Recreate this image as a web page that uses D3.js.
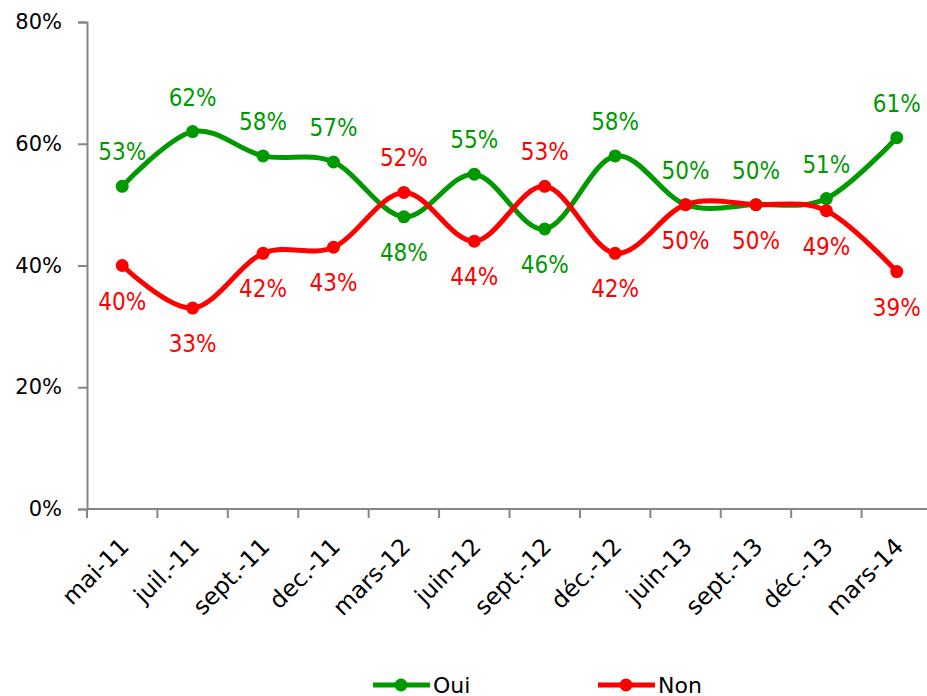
<!DOCTYPE html>
<html>
<head>
<meta charset="utf-8">
<script src="https://cdn.jsdelivr.net/npm/d3@7"></script>
<style>
  body { margin: 0; background: #fff; }
  text { font-family: "DejaVu Sans", sans-serif; }
</style>
</head>
<body>
<div id="chart"></div>
<script>
var categories = ['mai-11', 'juil.-11', 'sept.-11', 'dec.-11', 'mars-12', 'juin-12',
                  'sept.-12', 'déc.-12', 'juin-13', 'sept.-13', 'déc.-13', 'mars-14'];
var oui = [53, 62, 58, 57, 48, 55, 46, 58, 50, 50, 51, 61];
var non = [40, 33, 42, 43, 52, 44, 53, 42, 50, 50, 49, 39];
// which labels sit above the point (true) or below (false)
var ouiAbove = [true, true, true, true, false, true, false, true, true, true, true, true];
var yTicks = [0, 20, 40, 60, 80];

var width = 927, height = 696;
var green = '#009900', red = '#ff0000', axisColor = '#868686';

var svg = d3.select('#chart').append('svg')
    .attr('width', width)
    .attr('height', height);

var x = d3.scaleBand()
    .domain(categories)
    .range([87, 932]);

var y = d3.scaleLinear()
    .domain([0, 80])
    .range([509, 22]);

// y axis
var yAxis = d3.axisLeft(y)
    .tickValues(yTicks)
    .tickSize(9)
    .tickPadding(16)
    .tickFormat(d => d + '%');

var gy = svg.append('g')
    .attr('transform', 'translate(87,0)')
    .call(yAxis);
gy.select('.domain').attr('stroke', axisColor).attr('stroke-width', 2);
gy.selectAll('.tick line').attr('stroke', axisColor).attr('stroke-width', 2);
gy.selectAll('.tick text')
    .attr('font-size', 21)
    .attr('fill', '#000')
    .style('font-family', '"DejaVu Sans", sans-serif');

// x axis: ticks between categories
var gx = svg.append('g').attr('transform', 'translate(0,509)');
gx.append('line')
    .attr('x1', 87).attr('x2', width)
    .attr('stroke', axisColor).attr('stroke-width', 2);
gx.selectAll('.xtick')
    .data(categories)
    .enter()
    .append('line')
    .attr('class', 'xtick')
    .attr('x1', d => x(d)).attr('x2', d => x(d))
    .attr('y1', 0).attr('y2', 9)
    .attr('stroke', axisColor).attr('stroke-width', 2);
gx.selectAll('.xlabel')
    .data(categories)
    .enter()
    .append('text')
    .attr('class', 'xlabel')
    .attr('text-anchor', 'end')
    .attr('font-size', 23.5)
    .attr('transform', d => 'translate(' + (x(d) + x.bandwidth() / 2 + 8) + ',39) rotate(-45)')
    .text(d => d);

var cx = d => x(d) + x.bandwidth() / 2;

var line = d3.line()
    .curve(d3.curveCatmullRom.alpha(0))
    .x(d => cx(d.cat))
    .y(d => y(d.v));

var series = [
    { name: 'Oui', color: green, values: oui, above: ouiAbove.map(a => a) },
    { name: 'Non', color: red, values: non, above: ouiAbove.map(a => !a) }
];

series.forEach(s => {
    var pts = categories.map((c, i) => ({ cat: c, v: s.values[i], above: s.above[i] }));
    svg.append('path')
        .datum(pts)
        .attr('d', line)
        .attr('fill', 'none')
        .attr('stroke', s.color)
        .attr('stroke-width', 5)
        .attr('stroke-linejoin', 'round');
    s.pts = pts;
});

series.forEach(s => {
    svg.selectAll(null)
        .data(s.pts)
        .enter()
        .append('circle')
        .attr('cx', d => cx(d.cat))
        .attr('cy', d => y(d.v))
        .attr('r', 6.5)
        .attr('fill', s.color);

    svg.selectAll(null)
        .data(s.pts)
        .enter()
        .append('text')
        .attr('x', d => cx(d.cat))
        .attr('y', d => y(d.v) + (d.above ? -34 : 36))
        .attr('text-anchor', 'middle')
        .attr('dominant-baseline', 'central')
        .attr('font-size', 24)
        .style('font-family', '"DejaVu Sans Condensed", "DejaVu Sans", sans-serif')
        .attr('fill', s.color)
        .text(d => d.v + '%');
});

// legend
var legend = svg.append('g').attr('transform', 'translate(0,685)');
[{ name: 'Oui', color: green, x: 373 }, { name: 'Non', color: red, x: 598 }].forEach(l => {
    legend.append('line')
        .attr('x1', l.x).attr('x2', l.x + 57)
        .attr('stroke', l.color).attr('stroke-width', 5);
    legend.append('circle')
        .attr('cx', l.x + 28).attr('r', 6.5)
        .attr('fill', l.color);
    legend.append('text')
        .attr('x', l.x + 60)
        .attr('dominant-baseline', 'central')
        .attr('font-size', 22)
        .text(l.name);
});
</script>
</body>
</html>
